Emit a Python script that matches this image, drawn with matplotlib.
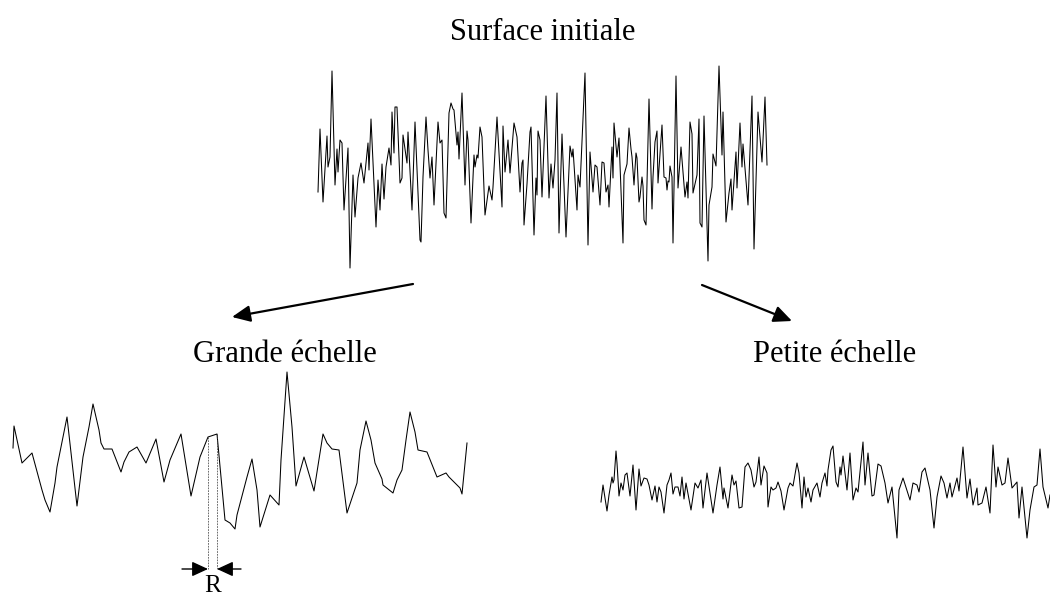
"""Schematic: an initial rough surface split into a large-scale and a small-scale profile."""
from __future__ import annotations

import matplotlib

matplotlib.use("Agg")
import matplotlib.pyplot as plt
import numpy as np

W, H = 1050, 597

# profile samples: distance along the profile and height (pixels)
surf_t = [0, 2, 5, 9, 10, 12, 14, 17, 19, 20, 22, 24, 26, 30, 32, 35, 37, 40, 43, 46,
          50, 51, 53, 58, 60, 62, 64, 66, 68, 71, 73, 74, 76, 77, 79, 82, 84, 85, 89, 90,
          94, 97, 102, 103, 105, 108, 110, 112, 114, 116, 120, 122, 124, 126, 128, 131, 133, 135, 136, 139,
          140, 141, 144, 147, 149, 150, 153, 156, 157, 159, 160, 162, 164, 167, 171, 174, 175, 179, 184, 185,
          187, 190, 192, 196, 199, 202, 204, 205, 206, 209, 212, 213, 216, 218, 219, 220, 222, 224, 228, 231,
          233, 235, 237, 239, 241, 244, 248, 252, 254, 255, 259, 260, 262, 267, 270, 272, 275, 277, 279, 282,
          284, 286, 288, 290, 291, 294, 295, 296, 299, 301, 305, 306, 309, 311, 313, 314, 316, 318, 319, 321,
          322, 324, 325, 326, 328, 331, 334, 335, 337, 339, 340, 344, 346, 348, 349, 350, 351, 352, 354, 355,
          358, 360, 363, 367, 369, 370, 372, 374, 375, 379, 381, 382, 384, 386, 390, 391, 394, 395, 398, 401,
          404, 405, 408, 411, 413, 414, 418, 419, 422, 424, 425, 430, 434, 436, 440, 444, 447, 449]
surf_z = [76, 139, 66, 132, 101, 111, 197, 83, 119, 96, 128, 125, 58, 120, 0, 93, 51, 90, 105, 85,
          125, 98, 149, 41, 88, 58, 104, 69, 101, 120, 103, 156, 115, 161, 161, 85, 90, 133, 105, 136,
          58, 146, 28, 26, 91, 151, 118, 90, 111, 63, 146, 125, 128, 55, 50, 155, 165, 159, 158, 123,
          136, 109, 175, 83, 137, 128, 45, 113, 101, 113, 110, 141, 131, 53, 82, 68, 81, 151, 61, 142,
          96, 128, 95, 145, 131, 76, 105, 108, 43, 84, 136, 141, 33, 90, 73, 137, 128, 71, 172, 70,
          104, 80, 108, 175, 35, 134, 31, 122, 111, 119, 58, 93, 81, 195, 23, 116, 76, 103, 101, 63,
          106, 105, 76, 83, 61, 121, 90, 145, 111, 130, 25, 93, 104, 140, 119, 111, 83, 115, 110, 66,
          71, 91, 82, 48, 43, 169, 59, 91, 126, 137, 85, 143, 91, 90, 78, 87, 86, 102, 91, 25,
          192, 80, 121, 71, 86, 70, 146, 134, 75, 93, 149, 45, 41, 152, 7, 63, 81, 114, 102, 202,
          113, 156, 46, 75, 89, 58, 116, 80, 145, 101, 124, 63, 172, 19, 156, 106, 171, 103]

large_t = [1, 2, 10, 20, 30, 33, 38, 43, 45, 55, 65, 71, 77, 81, 87, 89, 92, 100, 109, 112,
           117, 125, 134, 144, 152, 158, 169, 179, 188, 196, 205, 213, 218, 223, 225, 235, 240, 245, 248, 258,
           267, 269, 275, 280, 284, 292, 302, 311, 315, 320, 327, 335, 345, 348, 354, 359, 363, 370, 371, 381,
           385, 390, 394, 398, 403, 406, 415, 425, 434, 437, 448, 450, 455]
large_z = [82, 104, 67, 77, 40, 30, 18, 47, 63, 113, 24, 73, 103, 126, 100, 87, 81, 81, 58, 68,
           78, 83, 67, 91, 48, 70, 96, 34, 73, 93, 96, 10, 7, 1, 15, 53, 71, 40, 3, 35,
           25, 70, 158, 103, 44, 73, 39, 96, 87, 81, 80, 17, 47, 80, 109, 90, 67, 51, 45, 37,
           50, 60, 90, 118, 98, 80, 78, 53, 57, 53, 42, 36, 87]

small_t = [1, 3, 7, 9, 12, 13, 14, 16, 17, 19, 21, 23, 25, 27, 30, 33, 36, 39, 41, 44,
           47, 49, 52, 55, 57, 59, 61, 64, 67, 69, 71, 73, 75, 78, 80, 82, 84, 86, 91, 95,
           98, 101, 103, 107, 113, 117, 120, 123, 124, 128, 132, 134, 136, 139, 142, 145, 148, 151, 154, 156,
           159, 161, 164, 167, 168, 171, 173, 176, 178, 181, 184, 188, 190, 193, 197, 199, 202, 204, 206, 208,
           211, 213, 217, 220, 222, 225, 227, 228, 231, 233, 236, 238, 240, 241, 243, 247, 250, 253, 256, 258,
           263, 265, 268, 272, 274, 278, 281, 285, 288, 292, 297, 299, 303, 310, 313, 317, 319, 322, 325, 330,
           334, 337, 341, 344, 347, 350, 352, 357, 359, 363, 367, 370, 373, 377, 378, 382, 386, 390, 393, 396,
           398, 402, 405, 408, 412, 417, 419, 422, 427, 430, 434, 437, 440, 443, 448, 450]
small_z = [38, 55, 29, 45, 63, 57, 60, 89, 77, 44, 57, 50, 65, 67, 44, 75, 30, 71, 54, 62,
           61, 55, 40, 54, 38, 53, 48, 27, 55, 60, 67, 46, 53, 53, 44, 63, 41, 57, 30, 57,
           52, 60, 32, 67, 27, 55, 73, 41, 52, 32, 65, 55, 59, 32, 33, 73, 77, 70, 53, 58,
           83, 55, 74, 67, 33, 53, 50, 52, 58, 49, 30, 52, 57, 54, 77, 67, 32, 63, 43, 52,
           38, 50, 57, 43, 57, 67, 54, 70, 90, 94, 58, 53, 73, 65, 84, 50, 87, 40, 52, 48,
           98, 55, 87, 44, 45, 76, 74, 57, 37, 53, 2, 50, 62, 40, 57, 55, 48, 68, 72, 50,
           12, 43, 64, 57, 42, 57, 43, 62, 49, 93, 42, 61, 35, 52, 35, 37, 53, 27, 95, 53,
           73, 55, 57, 82, 52, 58, 22, 53, 2, 30, 53, 55, 91, 53, 32, 45]

titles = ["Surface initiale", "Grande échelle", "Petite échelle"]
r_label = "R"
r_peak = (29, 30)  # indices in large_t of the two samples marking the correlation length R

SERIF = ["Liberation Serif", "DejaVu Serif"]


def _profile_axes(fig, left, bottom, width, height):
    """Invisible axes placed in figure pixels, with 1 data unit = 1 pixel."""
    ax = fig.add_axes([left / W, 1 - bottom / H, width / W, height / H])
    ax.set_xlim(0, width)
    ax.set_ylim(0, height)
    ax.axis("off")
    return ax


fig = plt.figure(figsize=(W / 100, H / 100), dpi=100)

ax_top = _profile_axes(fig, 318, 268, 450, 205)
ax_top.plot(surf_t, surf_z, color="black", lw=0.75, clip_on=False)

ax_large = _profile_axes(fig, 12, 530, 456, 165)
ax_large.plot(large_t, large_z, color="black", lw=0.75, clip_on=False)

ax_small = _profile_axes(fig, 600, 540, 450, 100)
ax_small.plot(small_t, small_z, color="black", lw=0.75, clip_on=False)

# R marker: dashed drop lines from the peak samples, inward arrows below
arrow_z = -39
for i in r_peak:
    ax_large.plot([large_t[i], large_t[i]], [large_z[i], arrow_z], color="#333333",
                  lw=0.5, ls=(0, (2.5, 1.5)), clip_on=False)
r0, r1 = large_t[r_peak[0]], large_t[r_peak[1]]
small_head = dict(arrowstyle="-|>,head_length=0.65,head_width=0.3", color="black",
                  lw=1.0, mutation_scale=15, shrinkA=0, shrinkB=0)
ax_large.annotate("", xy=(r0, arrow_z), xytext=(r0 - 26, arrow_z), arrowprops=small_head,
                  annotation_clip=False)
ax_large.annotate("", xy=(r1, arrow_z), xytext=(r1 + 24, arrow_z), arrowprops=small_head,
                  annotation_clip=False)
ax_large.text((r0 + r1) / 2, arrow_z - 23, r_label, ha="center", va="baseline",
              fontsize=18, family=SERIF)

# overlay in pixel space for the titles and the splitting arrows
ov = fig.add_axes([0, 0, 1, 1])
ov.set_xlim(0, W)
ov.set_ylim(H, 0)
ov.axis("off")

ov.text(543, 40, titles[0], ha="center", va="baseline", fontsize=22, family=SERIF)
ov.text(285, 362, titles[1], ha="center", va="baseline", fontsize=22, family=SERIF)
ov.text(835, 362, titles[2], ha="center", va="baseline", fontsize=22, family=SERIF)

big_head = dict(arrowstyle="-|>,head_length=0.55,head_width=0.25", color="black",
                lw=1.6, mutation_scale=20, shrinkA=0, shrinkB=0)
ov.annotate("", xy=(232, 317), xytext=(413, 284), arrowprops=big_head)
ov.annotate("", xy=(792, 321), xytext=(702, 285), arrowprops=big_head)

fig.savefig("out.png", dpi=100, facecolor="white")
plt.close(fig)
